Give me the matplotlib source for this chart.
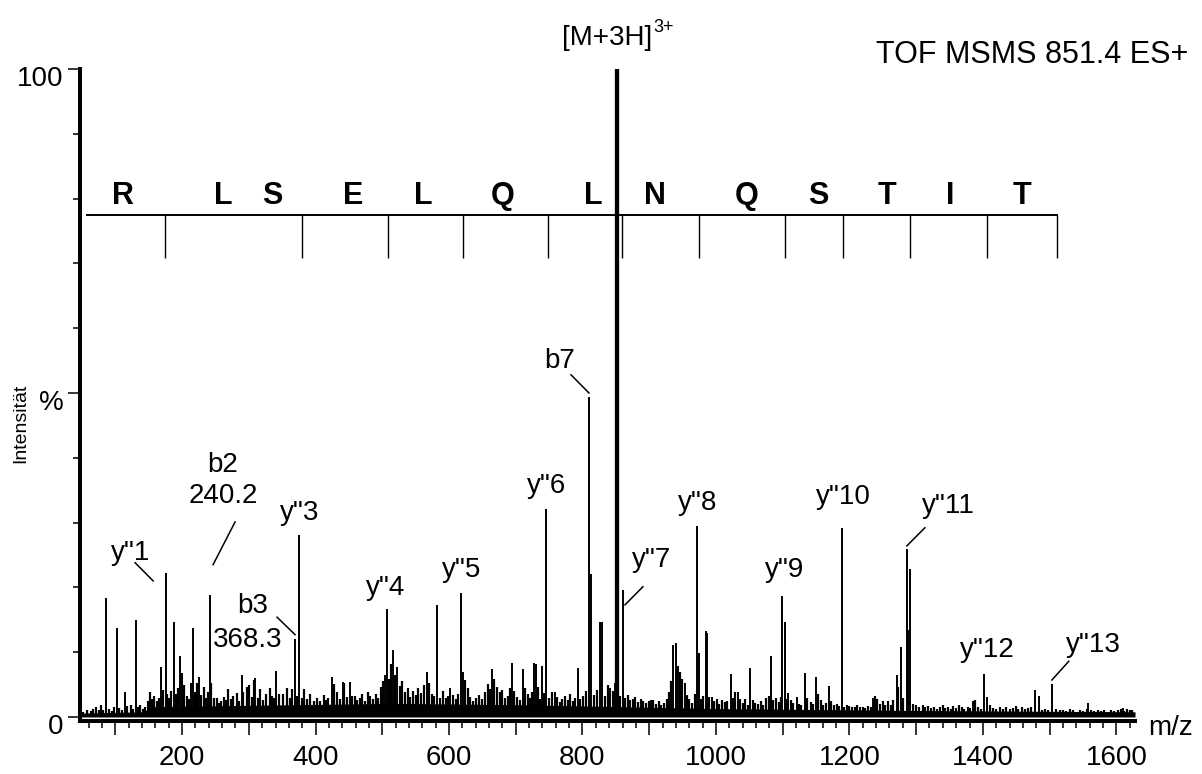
import numpy as np
import matplotlib
matplotlib.use('Agg')
import matplotlib.pyplot as plt
from matplotlib.ticker import MultipleLocator, FuncFormatter, FixedLocator
from matplotlib.transforms import ScaledTranslation

plt.rcParams['font.family'] = ['Liberation Sans', 'DejaVu Sans']

# main fragment peaks (m/z, relative intensity %)
peak_mz = [86.1, 102.2, 114.6, 130.6, 168.5, 175.6, 187.6, 197.5, 199.5, 213.5,
           216.9, 225.5, 241.9, 289.4, 309.4, 340.8, 368.8, 375.7, 424.3, 441.2,
           451.7, 504.1, 506.7, 516.6, 522.0, 566.6, 582.5, 602.0, 618.0, 620.5,
           664.0, 694.0, 710.9, 727.8, 730.0, 738.9, 745.3, 758.8, 792.8, 809.3,
           812.3, 826.2, 828.8, 841.2, 848.7, 860.2, 871.2, 902.2, 936.0, 940.0,
           942.6, 953.6, 972.0, 974.5, 984.6, 986.5, 993.6, 1022.5, 1032.5, 1051.0,
           1082.4, 1099.3, 1103.4, 1108.3, 1120.9, 1133.3, 1149.8, 1169.3, 1188.3, 1234.8,
           1270.7, 1277.2, 1286.1, 1288.1, 1291.1, 1384.6, 1401.1, 1405.6, 1477.9, 1483.9,
           1503.8, 1557.8, 1609.7]
peak_int = [18.4, 13.7, 3.9, 15.0, 7.7, 22.2, 14.7, 9.4, 6.8, 5.2,
            13.7, 6.2, 18.8, 6.5, 6.0, 7.1, 12.0, 28.1, 6.2, 5.4,
            5.4, 6.5, 16.7, 10.3, 7.7, 7.0, 17.3, 4.4, 19.2, 7.0,
            7.4, 8.4, 7.4, 8.4, 8.2, 7.8, 32.1, 3.9, 7.5, 49.4,
            22.0, 14.6, 14.7, 4.5, 5.2, 19.6, 2.6, 2.6, 11.1, 11.4,
            7.8, 5.2, 29.4, 9.9, 13.3, 12.9, 3.1, 6.7, 3.9, 7.5,
            9.4, 18.6, 14.7, 3.7, 3.1, 6.8, 6.1, 4.8, 29.1, 3.0,
            6.5, 10.8, 25.9, 13.4, 22.8, 2.5, 6.7, 3.1, 4.2, 3.2,
            5.1, 2.2, 1.4]

# precursor [M+3H]3+
precursor_mz = 852.1
precursor_int = 100.0

# chemical noise
noise_mz = [52, 58, 63, 67, 71, 75, 78, 82, 90, 95, 98, 106, 110, 118, 123, 127, 134, 137,
            141, 145, 149, 152, 155, 158, 162, 165, 171, 178, 181, 184, 191, 194, 203, 208,
            211, 219, 222, 229, 233, 236, 239, 244, 248, 252, 256, 259, 263, 266, 269, 273,
            277, 282, 286, 292, 297, 301, 304, 308, 313, 317, 321, 326, 331, 335, 338, 345,
            351, 357, 361, 364, 372, 379, 383, 387, 392, 397, 402, 406, 412, 416, 419, 427,
            432, 436, 443, 447, 455, 459, 462, 466, 470, 474, 478, 482, 486, 490, 494, 498,
            501, 510, 513, 519, 526, 530, 534, 538, 542, 546, 550, 554, 558, 562, 570, 574,
            578, 587, 591, 595, 598, 606, 611, 614, 624, 628, 632, 636, 640, 645, 650, 654,
            658, 661, 668, 672, 676, 680, 684, 688, 691, 698, 702, 706, 714, 718, 722, 725,
            733, 736, 742, 750, 755, 762, 766, 770, 774, 778, 782, 786, 789, 797, 801, 805,
            818, 822, 834, 838, 845, 856, 864, 868, 875, 879, 883, 887, 891, 895, 899, 906,
            910, 914, 918, 922, 926, 930, 933, 946, 949, 956, 960, 964, 968, 978, 981, 990,
            997, 1001, 1005, 1009, 1013, 1017, 1026, 1029, 1036, 1040, 1044, 1048, 1055, 1059,
            1063, 1067, 1071, 1075, 1079, 1086, 1090, 1094, 1097, 1106, 1112, 1116, 1124, 1128,
            1137, 1142, 1145, 1153, 1157, 1161, 1165, 1173, 1177, 1181, 1185, 1192, 1196, 1200,
            1204, 1208, 1212, 1216, 1220, 1224, 1228, 1232, 1238, 1242, 1246, 1250, 1254, 1258,
            1262, 1266, 1273, 1280, 1296, 1300, 1305, 1310, 1314, 1318, 1322, 1327, 1331, 1336,
            1340, 1344, 1348, 1352, 1356, 1360, 1364, 1368, 1372, 1377, 1381, 1388, 1393, 1397,
            1411, 1415, 1420, 1425, 1430, 1435, 1440, 1445, 1449, 1453, 1458, 1463, 1468, 1472,
            1488, 1493, 1498, 1510, 1515, 1520, 1525, 1530, 1535, 1540, 1545, 1550, 1556, 1562,
            1567, 1572, 1577, 1582, 1587, 1592, 1597, 1602, 1607, 1612, 1616, 1620, 1624]
noise_int = [0.8, 1.0, 0.9, 1.2, 1.5, 1.0, 1.9, 1.1, 1.3, 0.9, 1.6, 1.4, 1.0, 1.7, 1.9, 1.2, 1.5, 1.9,
             1.3, 1.6, 2.4, 3.9, 2.8, 3.3, 2.5, 3.0, 4.2, 3.5, 2.9, 4.0, 3.6, 4.4, 5.0, 3.2,
             2.8, 3.9, 5.3, 3.4, 4.6, 2.9, 3.8, 5.3, 3.0, 2.9, 2.2, 2.5, 3.1, 2.6, 4.3, 2.7,
             3.3, 3.7, 2.5, 3.9, 4.6, 4.9, 3.1, 5.7, 3.0, 4.3, 2.6, 3.5, 4.5, 3.2, 2.9, 3.6,
             3.5, 4.4, 3.0, 4.3, 3.2, 3.0, 4.3, 2.7, 3.5, 2.5, 2.9, 2.4, 3.4, 2.6, 3.0, 5.1,
             3.9, 2.8, 5.3, 3.1, 3.3, 3.2, 2.6, 2.9, 3.5, 2.4, 3.8, 3.2, 2.7, 3.6, 3.0, 4.6,
             5.5, 5.8, 8.2, 6.5, 4.8, 5.6, 3.9, 4.4, 3.1, 4.0, 3.4, 4.5, 3.7, 4.9, 5.2, 3.6,
             3.3, 3.0, 4.0, 2.9, 3.3, 3.4, 2.7, 3.6, 5.7, 4.5, 3.1, 2.5, 2.9, 3.4, 2.8, 3.9,
             5.1, 4.3, 5.9, 4.6, 3.8, 4.2, 2.9, 3.3, 4.4, 4.0, 3.1, 2.6, 4.5, 3.5, 2.9, 3.8,
             4.6, 2.7, 3.7, 2.9, 3.9, 3.1, 2.3, 2.8, 3.2, 2.6, 3.5, 2.4, 3.0, 2.7, 3.2, 4.0,
             3.4, 4.1, 3.3, 5.0, 4.0, 3.2, 2.9, 3.4, 2.7, 3.1, 2.3, 2.8, 2.4, 2.1, 2.5, 2.6,
             2.0, 2.4, 1.9, 2.2, 2.7, 3.9, 5.6, 6.9, 5.8, 3.4, 2.8, 2.2, 3.5, 2.8, 3.2, 3.1,
             2.5, 2.7, 2.0, 2.6, 2.3, 2.5, 2.9, 3.9, 2.8, 2.2, 2.7, 1.9, 2.6, 2.1,
             2.0, 2.4, 1.8, 2.9, 3.3, 2.6, 2.9, 2.3, 3.1, 2.8, 2.6, 2.2, 2.0, 1.8,
             2.9, 2.3, 2.0, 3.6, 2.6, 1.9, 2.2, 2.4, 1.8, 2.0, 1.7, 1.6, 1.9, 1.7,
             1.6, 1.5, 1.8, 1.5, 1.6, 1.4, 1.7, 1.5, 3.2, 2.8, 2.0, 2.5, 1.9, 2.4,
             1.8, 2.6, 4.6, 3.0, 2.0, 1.8, 1.6, 1.9, 1.5, 1.7, 1.4, 1.6, 1.3, 1.5,
             1.8, 1.4, 1.6, 1.3, 1.7, 1.4, 1.8, 1.5, 1.3, 1.6, 1.4, 2.6, 1.5, 1.3,
             1.8, 1.4, 1.2, 1.5, 1.3, 1.6, 1.2, 1.4, 1.7, 1.3, 1.5, 1.2, 1.4, 1.6,
             1.0, 1.3, 1.1, 1.2, 1.0, 1.1, 0.9, 1.2, 1.0, 0.8, 1.1, 0.9, 1.2, 1.0,
             0.9, 1.1, 0.9, 1.0, 0.8, 1.1, 0.9, 1.0, 1.3, 0.9, 1.2, 1.0, 1.1]

# baseline level (solid band under the noise)
base_mz = [47, 140, 160, 300, 520, 700, 900, 1000, 1300, 1628]
base_int = [0.6, 0.8, 1.6, 1.8, 2.1, 1.9, 1.5, 1.3, 1.0, 0.8]

# sequence ladder (y-ion series)
ladder_mz = [174.5, 379.8, 508.6, 621.0, 748.3, 859.2, 974.5, 1103.4,
             1190.3, 1290.6, 1406.0, 1510.9]
ladder_start = 57.7
residues = ['R', 'L', 'S', 'E', 'L', 'Q', 'L', 'N', 'Q', 'S', 'T', 'I', 'T']
residue_mz = [111.6, 261.4, 334.8, 456.2, 561.0, 680.9, 815.7, 908.6,
              1046.4, 1152.8, 1256.2, 1350.6, 1458.4]

# peak labels: text, x, baseline y
ion_labels = ['y"1', 'b2', '240.2', 'y"3', 'b3', '368.3', 'y"4', 'y"5', 'y"6', 'b7',
              'y"7', 'y"8', 'y"9', 'y"10', 'y"11', 'y"12', 'y"13']
ion_label_x = [123.6, 261.4, 261.4, 376.8, 305.0, 298.9, 505.6, 619.5, 746.8, 766.3,
               904.1, 973.0, 1103.4, 1190.3, 1349.1, 1406.0, 1566.3]
ion_label_y = [24.2, 37.8, 33.0, 30.4, 16.0, 10.8, 18.8, 21.6, 34.6, 53.9,
               23.2, 31.9, 21.6, 32.9, 31.5, 9.3, 10.0]

# leader lines (x0, y0, x1, y1)
leaders = [(129.6, 23.8, 156.6, 21.0),
           (279.4, 30.1, 246.4, 23.5),
           (342.3, 15.4, 369.3, 12.7),
           (782.8, 52.8, 809.7, 50.0),
           (890.6, 20.1, 863.7, 17.3),
           (1313.1, 29.2, 1286.1, 26.4),
           (1528.8, 8.6, 1503.4, 5.7)]

fig = plt.figure(figsize=(12.02, 7.74), dpi=100)
ax = fig.add_axes([0.06656, 0.06848, 0.8777, 0.8424])

ax.fill_between(base_mz, 0, base_int, color='black', lw=0)
ax.vlines(noise_mz, 0, noise_int, color='black', lw=1.6)
ax.vlines(peak_mz, 0, peak_int, color='black', lw=1.4)
ax.vlines([precursor_mz], 0, [precursor_int], color='black', lw=3.1)

# ladder
ax.plot([ladder_start, ladder_mz[-1]], [77.5, 77.5], color='black', lw=1.4)
ax.vlines(ladder_mz, 70.8, 77.5, color='black', lw=1.0)
for r, x in zip(residues, residue_mz):
    ax.text(x, 79.2, r, ha='center', va='baseline', fontsize=22, fontweight='bold')

for s, x, y in zip(ion_labels, ion_label_x, ion_label_y):
    ax.text(x, y, s, ha='center', va='baseline', fontsize=20)
for x0, y0, x1, y1 in leaders:
    ax.plot([x0, x1], [y0, y1], color='black', lw=1.1)

ax.text(904.1, 103.7, '[M+3H]', ha='right', va='baseline', fontsize=20)
ax.text(905.5, 105.7, '3+', ha='left', va='baseline', fontsize=13)

ax.set_xlim(47, 1628)
ax.set_ylim(-0.62, 100)

for side in ['top', 'right']:
    ax.spines[side].set_visible(False)
for side in ['left', 'bottom']:
    ax.spines[side].set_linewidth(2.9)

ax.xaxis.set_major_locator(MultipleLocator(100))
ax.xaxis.set_minor_locator(MultipleLocator(20))
ax.xaxis.set_major_formatter(FuncFormatter(lambda v, p: '%d' % v if int(v) % 200 == 0 else ''))
ax.yaxis.set_major_locator(FixedLocator([0, 50, 100]))
ax.yaxis.set_minor_locator(FixedLocator([10, 20, 30, 40, 60, 70, 80, 90]))
ax.set_yticklabels(['0', '%', '100'])

ax.tick_params(axis='x', which='major', length=10, width=1.1, pad=7, labelsize=20)
ax.tick_params(axis='x', which='minor', length=5, width=1.1)
ax.tick_params(axis='y', which='major', length=9, width=1.1, pad=3, labelsize=20)
ax.tick_params(axis='y', which='minor', length=5, width=1.1)

offset = ScaledTranslation(0, -0.07, fig.dpi_scale_trans)
for lab in ax.get_yticklabels():
    lab.set_transform(lab.get_transform() + offset)

fig.text(0.9884, 0.9186, 'TOF MSMS 851.4 ES+', ha='right', va='baseline', fontsize=22)
fig.text(0.955, 0.0504, 'm/z', ha='left', va='baseline', fontsize=20)
fig.text(0.0175, 0.4535, 'Intensität', rotation=90, ha='center', va='center', fontsize=14)

fig.savefig('out.png', dpi=100)
